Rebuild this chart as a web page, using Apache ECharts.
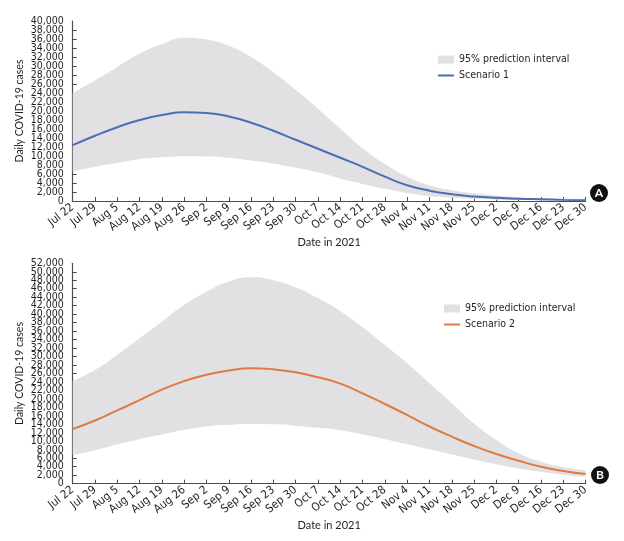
<!DOCTYPE html>
<html>
<head>
<meta charset="utf-8">
<script src="https://cdn.jsdelivr.net/npm/echarts@6/dist/echarts.min.js"></script>
<style>
  html, body { margin: 0; padding: 0; background: #fff; }
  #chart { width: 624px; height: 541px; }
</style>
</head>
<body>
<div id="chart"></div>
<script>
// weekly dates
var dates = ['Jul 22', 'Jul 29', 'Aug 5', 'Aug 12', 'Aug 19', 'Aug 26', 'Sep 2', 'Sep 9', 'Sep 16', 'Sep 23', 'Sep 30', 'Oct 7',
  'Oct 14', 'Oct 21', 'Oct 28', 'Nov 4', 'Nov 11', 'Nov 18', 'Nov 25', 'Dec 2', 'Dec 9', 'Dec 16', 'Dec 23', 'Dec 30'];

// scenario 1 (panel A)
var s1Mean = [12400, 14500, 16400, 18000, 19100, 19700, 19550, 18800, 17400, 15600, 13600, 11600,
  9600, 7600, 5400, 3500, 2300, 1500, 1000, 700, 500, 380, 250, 150];
var s1Upper = [24000, 26800, 29800, 32700, 34900, 36300, 35900, 34500, 32000, 28600, 24700, 20500,
  16100, 11700, 8200, 5400, 3500, 2400, 1700, 1200, 850, 620, 460, 350];
var s1Lower = [6500, 7600, 8500, 9300, 9700, 9950, 9900, 9600, 9000, 8300, 7400, 6400,
  5000, 3800, 2700, 1800, 1100, 700, 450, 300, 200, 120, 80, 50];

// scenario 2 (panel B)
var s2Mean = [12900, 14900, 17300, 19700, 22200, 24200, 25700, 26700, 27250, 27000, 26300, 25100,
  23600, 21300, 18800, 16200, 13500, 11100, 8900, 7000, 5400, 4000, 3000, 2300];
var s2Upper = [24200, 26800, 30400, 34300, 38200, 42200, 45300, 47700, 48700, 48000, 46300, 43800,
  40700, 36900, 32700, 28400, 23700, 19000, 14200, 10300, 7200, 5200, 3900, 3200];
var s2Lower = [6800, 7900, 9300, 10500, 11600, 12700, 13500, 13900, 14100, 14000, 13700, 13200,
  12600, 11600, 10500, 9300, 8100, 6900, 5700, 4600, 3600, 2800, 2100, 1600];

var textColor = '#231f20';
var axisColor = '#4d4d4d';
var bandColor = '#e1e1e3';
var numFont = 'Liberation Sans Narrow, DejaVu Sans Condensed, sans-serif';
var nameFont = 'Lato, Open Sans, sans-serif';

function diff(up, lo) {
  return up.map(function (v, i) { return v - lo[i]; });
}

function fmt(v) { return v.toLocaleString('en-US'); }

function makeX(gi) {
  return {
    type: 'category', gridIndex: gi, data: dates, boundaryGap: false,
    name: 'Date in 2021', nameLocation: 'middle', nameGap: 36,
    nameTextStyle: { color: textColor, fontSize: 11, fontFamily: nameFont },
    axisLine: { lineStyle: { color: axisColor, width: 1.2 } },
    axisTick: { inside: true, length: 4, alignWithLabel: true, lineStyle: { color: axisColor } },
    axisLabel: { interval: 0, rotate: 38, color: textColor, fontSize: 11.5, fontFamily: numFont, margin: 5 },
    splitLine: { show: false }
  };
}

// main y axis: every 2,000 step (min/max labels drawn by the helper axis)
function makeY(gi, max) {
  return {
    type: 'value', gridIndex: gi, min: 0, max: max, interval: 2000,
    name: 'Daily COVID-19 cases', nameLocation: 'middle', nameGap: 48, nameMoveOverlap: false,
    nameTextStyle: { color: textColor, fontSize: 10.5, fontFamily: nameFont },
    axisLine: { show: true, lineStyle: { color: axisColor, width: 1.2 } },
    axisTick: { show: true, inside: true, length: 4, lineStyle: { color: axisColor } },
    axisLabel: {
      color: textColor, fontSize: 10.5, fontFamily: numFont, margin: 9,
      showMinLabel: false, showMaxLabel: false, formatter: fmt
    },
    splitLine: { show: false }
  };
}

// helper y axis that only carries the 0 and max labels
function makeYEnds(gi, max) {
  return {
    type: 'value', gridIndex: gi, min: 0, max: max, interval: max, position: 'left',
    axisLine: { show: false }, axisTick: { show: false }, splitLine: { show: false },
    axisLabel: { color: textColor, fontSize: 10.5, fontFamily: numFont, margin: 9, formatter: fmt }
  };
}

function bandSeries(gi, lo, up, stackName) {
  return [
    {
      name: 'lower' + gi, type: 'line', xAxisIndex: gi, yAxisIndex: gi, stack: stackName,
      data: lo, smooth: true, symbol: 'none', lineStyle: { width: 0, opacity: 0 }, silent: true
    },
    {
      name: '95% prediction interval', type: 'line', xAxisIndex: gi, yAxisIndex: gi, stack: stackName,
      data: diff(up, lo), smooth: true, symbol: 'none',
      itemStyle: { color: bandColor },
      lineStyle: { width: 0, opacity: 0 },
      areaStyle: { color: bandColor, opacity: 1 }
    }
  ];
}

var chart = echarts.init(document.getElementById('chart'));

var series = [].concat(
  bandSeries(0, s1Lower, s1Upper, 'band1'),
  [{
    name: 'Scenario 1', type: 'line', xAxisIndex: 0, yAxisIndex: 0, data: s1Mean,
    smooth: true, symbol: 'none', itemStyle: { color: '#4a6fb3' }, lineStyle: { width: 2, color: '#4a6fb3' }
  }],
  bandSeries(1, s2Lower, s2Upper, 'band2'),
  [{
    name: 'Scenario 2', type: 'line', xAxisIndex: 1, yAxisIndex: 1, data: s2Mean,
    smooth: true, symbol: 'none', itemStyle: { color: '#e07a3f' }, lineStyle: { width: 2, color: '#e07a3f' }
  }]
);

var lineIcon = 'path://M0,0 L24,0 L24,3 L0,3 Z';

var option = {
  animation: false,
  backgroundColor: '#fff',
  grid: [
    { left: 72.7, right: 38.4, top: 21, bottom: 340 },
    { left: 72.7, right: 38.4, top: 263.3, bottom: 57.3 }
  ],
  xAxis: [makeX(0), makeX(1)],
  yAxis: [makeY(0, 40000), makeY(1, 52000), makeYEnds(0, 40000), makeYEnds(1, 52000)],
  legend: [
    {
      left: 433, top: 49, orient: 'vertical', itemGap: 5, itemWidth: 16, itemHeight: 8,
      textStyle: { color: textColor, fontSize: 10.5, fontFamily: numFont },
      data: [
        { name: '95% prediction interval', icon: 'rect' },
        { name: 'Scenario 1', icon: lineIcon }
      ]
    },
    {
      left: 439, top: 298, orient: 'vertical', itemGap: 5, itemWidth: 16, itemHeight: 8,
      textStyle: { color: textColor, fontSize: 10.5, fontFamily: numFont },
      data: [
        { name: '95% prediction interval', icon: 'rect' },
        { name: 'Scenario 2', icon: lineIcon }
      ]
    }
  ],
  graphic: [
    { type: 'circle', shape: { cx: 599, cy: 193, r: 9 }, style: { fill: '#111' } },
    { type: 'text', x: 599, y: 193, style: { text: 'A', fill: '#fff', font: 'bold 12px Lato, sans-serif', align: 'center', verticalAlign: 'middle' } },
    { type: 'circle', shape: { cx: 600, cy: 475, r: 9 }, style: { fill: '#111' } },
    { type: 'text', x: 600, y: 475, style: { text: 'B', fill: '#fff', font: 'bold 12px Lato, sans-serif', align: 'center', verticalAlign: 'middle' } }
  ],
  series: series
};

chart.setOption(option);
</script>
</body>
</html>
